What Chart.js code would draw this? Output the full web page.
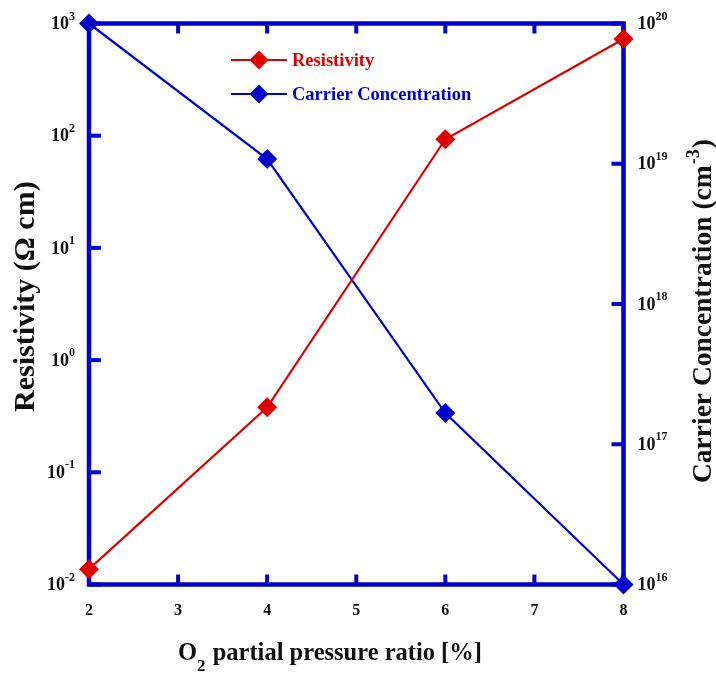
<!DOCTYPE html>
<html>
<head>
<meta charset="utf-8">
<script src="https://cdn.jsdelivr.net/npm/chart.js@4/dist/chart.umd.min.js"></script>
<style>
html,body{margin:0;padding:0;background:#fff;}
#wrap{width:716px;height:673px;position:relative;}
</style>
</head>
<body>
<div id="wrap"><canvas id="c" width="716" height="673"></canvas></div>
<script>
// ---- data ----
const xValues = [2, 4, 6, 8];
const resistivity = [0.0137, 0.38, 93, 728];
const carrier = [1e20, 1.08e19, 1.67e17, 1e16];
const xTicks = [2, 3, 4, 5, 6, 7, 8];
const leftExps = [-2, -1, 0, 1, 2, 3];
const rightExps = [16, 17, 18, 19, 20];
const seriesNames = ['Resistivity', 'Carrier Concentration'];

const RED = '#dd0000';
const BLUE = '#0000cc';
const FONT = "'Liberation Serif', 'Times New Roman', serif";

function pts(ys){ return xValues.map((x,i)=>({x:x, y:ys[i]})); }

function diamond(ctx, x, y, r, color){
  ctx.save();
  ctx.fillStyle = color;
  ctx.beginPath();
  ctx.moveTo(x, y - r); ctx.lineTo(x + r, y); ctx.lineTo(x, y + r); ctx.lineTo(x - r, y);
  ctx.closePath(); ctx.fill();
  ctx.restore();
}

function line(ctx, x1, y1, x2, y2){
  ctx.beginPath(); ctx.moveTo(x1, y1); ctx.lineTo(x2, y2); ctx.stroke();
}

// draws "10" with superscript exponent; align 'right' => ends at x, 'left' => starts at x
function drawPow(ctx, x, y, exp, align){
  const base = '10', sup = String(exp);
  ctx.font = 'bold 18px ' + FONT;
  const wb = ctx.measureText(base).width;
  ctx.font = 'bold 12px ' + FONT;
  const ws = ctx.measureText(sup).width;
  let x0 = align === 'right' ? x - wb - ws : x;
  ctx.textAlign = 'left';
  ctx.textBaseline = 'middle';
  ctx.font = 'bold 18px ' + FONT;
  ctx.fillText(base, x0, y + 1);
  ctx.font = 'bold 12px ' + FONT;
  ctx.fillText(sup, x0 + wb, y - 7);
}

const decor = {
  id: 'decor',
  beforeDatasetsDraw(chart){
    const {ctx, chartArea: a, scales} = chart;
    ctx.save();
    ctx.strokeStyle = BLUE;
    ctx.lineWidth = 4.5;
    ctx.lineCap = 'square';
    ctx.strokeRect(a.left, a.top, a.right - a.left, a.bottom - a.top);
    ctx.lineCap = 'butt';
    ctx.lineWidth = 4;
    xTicks.forEach(v => {
      const px = scales.x.getPixelForValue(v);
      line(ctx, px, a.bottom, px, a.bottom - 10);
      line(ctx, px, a.top, px, a.top + 10);
    });
    leftExps.forEach(e => {
      const py = scales.y.getPixelForValue(Math.pow(10, e));
      line(ctx, a.left, py, a.left + 12, py);
    });
    rightExps.forEach(e => {
      const py = scales.y1.getPixelForValue(Math.pow(10, e));
      line(ctx, a.right, py, a.right - 12, py);
    });
    ctx.restore();
  },
  afterDraw(chart){
    const {ctx, chartArea: a, scales} = chart;
    ctx.save();
    ctx.fillStyle = '#111';
    // tick labels
    leftExps.forEach(e => {
      const py = scales.y.getPixelForValue(Math.pow(10, e));
      drawPow(ctx, a.left - 14, py, e, 'right');
    });
    rightExps.forEach(e => {
      const py = scales.y1.getPixelForValue(Math.pow(10, e));
      drawPow(ctx, a.right + 14, py, e, 'left');
    });
    ctx.font = 'bold 16px ' + FONT;
    ctx.textAlign = 'center';
    ctx.textBaseline = 'middle';
    xTicks.forEach(v => {
      ctx.fillText(String(v), scales.x.getPixelForValue(v), a.bottom + 26);
    });

    // x title: O2 partial pressure ratio [%]
    ctx.textAlign = 'left';
    ctx.textBaseline = 'alphabetic';
    let tx = 178, ty = 660;
    ctx.font = 'bold 24.5px ' + FONT;
    ctx.fillText('O', tx, ty); tx += ctx.measureText('O').width;
    ctx.font = 'bold 17px ' + FONT;
    ctx.fillText('2', tx, ty + 11); tx += ctx.measureText('2').width + 1;
    ctx.font = 'bold 24.5px ' + FONT;
    ctx.fillText(' partial pressure ratio [%]', tx, ty);

    // left title
    ctx.save();
    ctx.translate(34, 412);
    ctx.rotate(-Math.PI / 2);
    ctx.font = 'bold 30px ' + FONT;
    ctx.fillText('Resistivity (\u03A9 cm)', 0, 0);
    ctx.restore();

    // right title
    ctx.save();
    ctx.translate(711, 483);
    ctx.rotate(-Math.PI / 2);
    ctx.font = 'bold 27.5px ' + FONT;
    let rx = 0;
    const t1 = 'Carrier Concentration (cm';
    ctx.fillText(t1, rx, 0); rx += ctx.measureText(t1).width;
    ctx.font = 'bold 18px ' + FONT;
    ctx.fillText('-3', rx + 1, -12); rx += ctx.measureText('-3').width + 2;
    ctx.font = 'bold 27.5px ' + FONT;
    ctx.fillText(')', rx, 0);
    ctx.restore();

    // legend
    const leg = [[seriesNames[0], RED, 60], [seriesNames[1], BLUE, 94]];
    leg.forEach(([name, col, ly]) => {
      ctx.strokeStyle = col; ctx.lineWidth = 2.2;
      line(ctx, 231, ly, 287, ly);
      diamond(ctx, 259, ly, 9.5, col);
      ctx.fillStyle = col;
      ctx.font = 'bold 18.5px ' + FONT;
      ctx.textAlign = 'left';
      ctx.textBaseline = 'middle';
      ctx.fillText(name, 292, ly + 1);
    });
    ctx.restore();
  }
};

new Chart(document.getElementById('c'), {
  type: 'line',
  data: {
    datasets: [
      {
        label: seriesNames[0], data: pts(resistivity), yAxisID: 'y',
        borderColor: RED, backgroundColor: RED, borderWidth: 2.2,
        pointStyle: 'rectRot', pointRadius: 10, pointBorderWidth: 0,
        pointBackgroundColor: RED, clip: false, tension: 0
      },
      {
        label: seriesNames[1], data: pts(carrier), yAxisID: 'y1',
        borderColor: BLUE, backgroundColor: BLUE, borderWidth: 2.2,
        pointStyle: 'rectRot', pointRadius: 10, pointBorderWidth: 0,
        pointBackgroundColor: BLUE, clip: false, tension: 0
      }
    ]
  },
  options: {
    responsive: false,
    animation: false,
    devicePixelRatio: 1,
    layout: { padding: { left: 89, right: 92.5, top: 23.5, bottom: 88.5 } },
    plugins: { legend: { display: false }, tooltip: { enabled: false } },
    scales: {
      x: { type: 'linear', min: 2, max: 8, display: false },
      y: { type: 'logarithmic', position: 'left', min: 0.01, max: 1000, display: false },
      y1: { type: 'logarithmic', position: 'right', min: 1e16, max: 1e20, display: false }
    }
  },
  plugins: [decor]
});
</script>
</body>
</html>
